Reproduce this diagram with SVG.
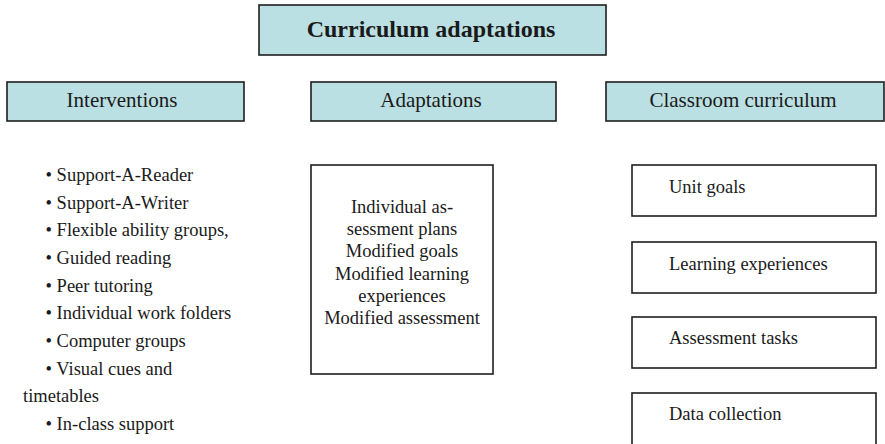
<svg xmlns="http://www.w3.org/2000/svg" width="885" height="444" viewBox="0 0 885 444">
<style>
.hdr{fill:#bbe0e3;stroke:#1e1e1e;stroke-width:1.6}
.box{fill:#ffffff;stroke:#1e1e1e;stroke-width:1.6}
text{font-family:"Liberation Serif","Times New Roman",serif;fill:#1a1a1a}
.t{font-size:24px;font-weight:bold;text-anchor:middle}
.h{font-size:21px;text-anchor:middle}
.b{font-size:18.5px}
.c{font-size:18.5px;text-anchor:middle}
</style>
<rect width="885" height="444" fill="#ffffff"/>
<g id="title">
<rect class="hdr" x="259" y="5" width="347" height="50"/>
<text class="t" x="431" y="37">Curriculum adaptations</text>
</g>
<g id="interventions">
<rect class="hdr" x="7" y="82" width="237" height="39"/>
<text class="h" x="122" y="107">Interventions</text>
</g>
<g id="adaptations">
<rect class="hdr" x="311" y="82" width="245" height="39"/>
<text class="h" x="431" y="107">Adaptations</text>
</g>
<g id="classroom-curriculum">
<rect class="hdr" x="606" y="82" width="278" height="39"/>
<text class="h" x="743" y="107">Classroom curriculum</text>
</g>
<g id="interventions-list">
<text class="b" x="45.5" y="181">• Support-A-Reader</text>
<text class="b" x="45.5" y="208.5">• Support-A-Writer</text>
<text class="b" x="45.5" y="236">• Flexible ability groups,</text>
<text class="b" x="45.5" y="264">• Guided reading</text>
<text class="b" x="45.5" y="291.5">• Peer tutoring</text>
<text class="b" x="45.5" y="319">• Individual work folders</text>
<text class="b" x="45.5" y="347">• Computer groups</text>
<text class="b" x="45.5" y="375">• Visual cues and</text>
<text class="b" x="23" y="402">timetables</text>
<text class="b" x="45.5" y="430">• In-class support</text>
</g>
<g id="adaptations-box">
<rect class="box" x="311" y="165" width="182" height="209"/>
<text class="c" x="402" y="213">Individual as-</text>
<text class="c" x="402" y="235">sessment plans</text>
<text class="c" x="402" y="257">Modified goals</text>
<text class="c" x="402" y="279.5">Modified learning</text>
<text class="c" x="402" y="302">experiences</text>
<text class="c" x="402" y="324">Modified assessment</text>
</g>
<g id="unit-goals">
<rect class="box" x="632" y="165" width="244" height="51"/>
<text class="b" x="669" y="193">Unit goals</text>
</g>
<g id="learning-experiences">
<rect class="box" x="632" y="242" width="244" height="51"/>
<text class="b" x="669" y="270">Learning experiences</text>
</g>
<g id="assessment-tasks">
<rect class="box" x="632" y="317" width="244" height="51"/>
<text class="b" x="669" y="344">Assessment tasks</text>
</g>
<g id="data-collection">
<rect class="box" x="632" y="393" width="244" height="56"/>
<text class="b" x="669" y="420">Data collection</text>
</g>
<g id="connectors"></g>
</svg>
